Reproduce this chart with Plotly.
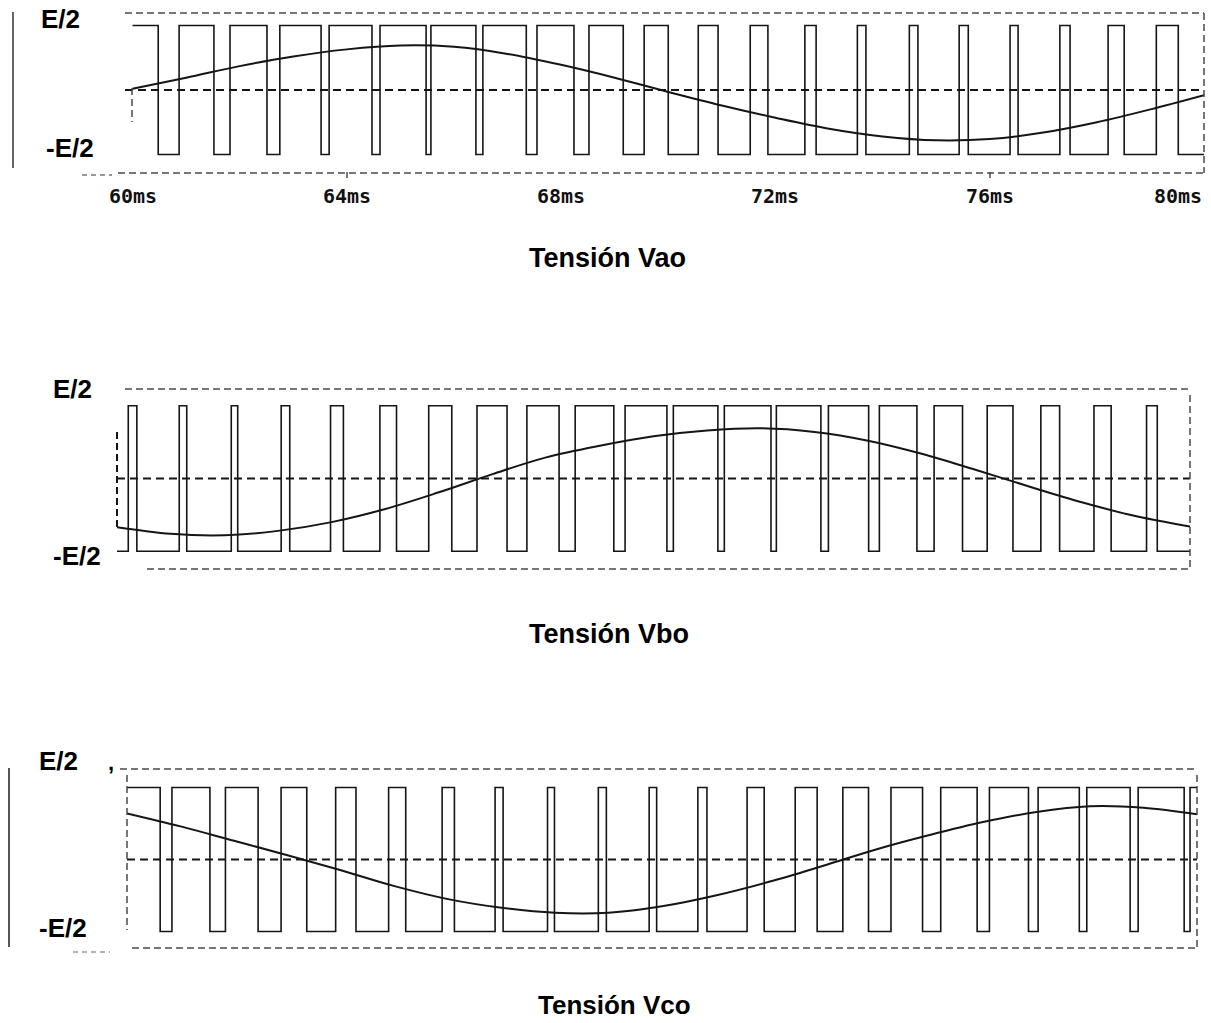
import plotly.graph_objects as go

# ---- data (time in ms, levels in units of E/2) ----
t_ref = [60, 61, 62, 63, 64, 65, 66, 67, 68, 69, 70,
         71, 72, 73, 74, 75, 76, 77, 78, 79, 80]

# sinusoidal references (modulating signals)
vao_ref = [0.02, 0.19, 0.37, 0.52, 0.63, 0.69, 0.67, 0.56, 0.39, 0.19, -0.03,
           -0.24, -0.43, -0.60, -0.72, -0.78, -0.76, -0.66, -0.50, -0.30, -0.08]
vbo_ref = [-0.67, -0.76, -0.78, -0.72, -0.60, -0.42, -0.19, 0.06, 0.29, 0.45, 0.58,
           0.66, 0.69, 0.64, 0.52, 0.34, 0.12, -0.11, -0.33, -0.52, -0.66]
vco_ref = [0.64, 0.46, 0.26, 0.06, -0.15, -0.37, -0.55, -0.67, -0.74, -0.74, -0.65,
           -0.50, -0.31, -0.09, 0.14, 0.34, 0.52, 0.66, 0.74, 0.72, 0.63]

# PWM switching instants: +E/2 between each rise and the following fall
vao_rise = [60.00, 60.87, 61.82, 62.75, 63.67, 64.62, 65.57, 66.54, 67.55, 68.52, 69.55,
            70.56, 71.53, 72.55, 73.53, 74.50, 75.43, 76.38, 77.31, 78.21, 79.11]
vao_fall = [60.48, 61.52, 62.51, 63.52, 64.47, 65.48, 66.41, 67.35, 68.24, 69.16, 70.00,
            70.93, 71.86, 72.76, 73.69, 74.66, 75.60, 76.53, 77.50, 78.51, 79.52]

vbo_rise = [60.21, 61.16, 62.13, 63.06, 63.98, 64.90, 65.81, 66.71, 67.64, 68.54, 69.47,
            70.37, 71.32, 72.29, 73.26, 74.21, 75.23, 76.22, 77.22, 78.21, 79.19]
vbo_fall = [60.37, 61.30, 62.25, 63.22, 64.22, 65.21, 66.24, 67.27, 68.24, 69.26, 70.25,
            71.20, 72.19, 73.12, 74.01, 74.91, 75.76, 76.70, 77.57, 78.53, 79.39]

vco_rise = [60.00, 60.84, 61.84, 62.88, 63.90, 64.89, 65.89, 66.88, 67.86, 68.81, 69.76,
            70.67, 71.59, 72.49, 73.38, 74.28, 75.21, 76.12, 77.03, 77.94, 78.90, 79.87]
vco_fall = [60.62, 61.55, 62.45, 63.36, 64.28, 65.21, 66.12, 67.03, 67.99, 68.96, 69.90,
            70.84, 71.91, 72.90, 73.86, 74.87, 75.89, 76.85, 77.80, 78.75, 79.76, 80.00]

tick_vals = [60, 64, 68, 72, 76, 80]
tick_text = ["60ms", "64ms", "68ms", "72ms", "76ms", "80ms"]
titles = ["Tensión Vao", "Tensión Vbo", "Tensión Vco"]

T_START, T_END = 60.0, 80.0
W, H = 1211, 1023


def px(x):
    return x / W


def py(y):
    return 1 - y / H


def pwm_steps(rises, falls):
    """Turn rise/fall instants into a +/-1 step waveform."""
    xs, ys = [], []
    level = 1 if rises[0] <= T_START else -1
    xs.append(T_START)
    ys.append(level)
    last = level
    for r, f in zip(rises, falls):
        if r > T_START:
            xs += [r, r]
            ys += [-1, 1]
        if f < T_END:
            xs += [f, f]
            ys += [1, -1]
            last = -1
        else:
            last = 1
    xs.append(T_END)
    ys.append(last)
    return xs, ys


INK = "#151515"
BOX = "#4a4a4a"

# panel geometry: x domain (px), y domain (px), x range, y range
panels = [
    dict(xd=(125, 1204), yd=(13, 173), xr=(59.86, 80.0), yr=(-1.287, 1.194),
         rise=vao_rise, fall=vao_fall, ref=vao_ref),
    dict(xd=(117, 1190), yd=(389, 569), xr=(60.0, 80.0), yr=(-1.244, 1.230),
         rise=vbo_rise, fall=vbo_fall, ref=vbo_ref),
    dict(xd=(127, 1197), yd=(769, 948), xr=(60.0, 80.0), yr=(-1.229, 1.257),
         rise=vco_rise, fall=vco_fall, ref=vco_ref),
]

fig = go.Figure()
layout_axes = {}
shapes = []

for i, p in enumerate(panels, start=1):
    xa = "x" if i == 1 else f"x{i}"
    ya = "y" if i == 1 else f"y{i}"
    xs, ys = pwm_steps(p["rise"], p["fall"])
    fig.add_trace(go.Scatter(x=xs, y=ys, mode="lines", xaxis=xa, yaxis=ya,
                             line=dict(color=INK, width=1.6), hoverinfo="skip",
                             showlegend=False))
    fig.add_trace(go.Scatter(x=t_ref, y=p["ref"], mode="lines", xaxis=xa, yaxis=ya,
                             line=dict(color=INK, width=2.0, shape="spline", smoothing=1.0),
                             hoverinfo="skip", showlegend=False))
    xkey = "xaxis" if i == 1 else f"xaxis{i}"
    ykey = "yaxis" if i == 1 else f"yaxis{i}"
    layout_axes[xkey] = dict(domain=[px(p["xd"][0]), px(p["xd"][1])], range=list(p["xr"]),
                             anchor=ya, showgrid=False, zeroline=False, showline=False,
                             showticklabels=False, ticks="", fixedrange=True)
    layout_axes[ykey] = dict(domain=[py(p["yd"][1]), py(p["yd"][0])], range=list(p["yr"]),
                             anchor=xa, showgrid=False, zeroline=False, showline=False,
                             showticklabels=False, ticks="", fixedrange=True)
    # zero-level dashed line
    shapes.append(dict(type="line", xref=f"{xa} domain", yref=ya, x0=0, x1=1, y0=0, y1=0,
                       line=dict(color=INK, width=2, dash="8px,5px"), layer="below"))


def dline(x0, y0, x1, y1, color=BOX, width=1.5, dash="7px,4px"):
    shapes.append(dict(type="line", xref="paper", yref="paper",
                       x0=px(x0), y0=py(y0), x1=px(x1), y1=py(y1),
                       line=dict(color=color, width=width, dash=dash)))


# dashed frames around each trace
dline(125, 13, 1204, 13)
dline(118, 173, 1204, 173)
dline(1204, 13, 1204, 173)
dline(132, 88, 132, 122)
dline(82, 175, 112, 175, color="#777", dash="5px,4px")

dline(125, 389, 1190, 389)
dline(147, 569, 1190, 569)
dline(1190, 395, 1190, 569)
dline(117, 432, 117, 530, color=INK, width=2)

dline(120, 769, 1197, 769)
dline(132, 948, 1197, 948)
dline(127, 775, 127, 930)
dline(1197, 775, 1197, 948)
dline(73, 952, 110, 952, color="#999", dash="5px,4px")

# small tick marks on the lower frame of the first trace
for tx in (347, 990):
    shapes.append(dict(type="line", xref="paper", yref="paper", x0=px(tx), x1=px(tx),
                       y0=py(172), y1=py(178), line=dict(color=BOX, width=1.5)))

# solid bars on the far left
shapes.append(dict(type="line", xref="paper", yref="paper", x0=px(13), x1=px(13),
                   y0=py(12), y1=py(168), line=dict(color="#666", width=2)))
shapes.append(dict(type="line", xref="paper", yref="paper", x0=px(9), x1=px(9),
                   y0=py(768), y1=py(947), line=dict(color="#555", width=2)))

annotations = []
LABEL_FONT = dict(family="Liberation Sans, Arial, sans-serif", size=26, color="#000")


def label(text, x, y, size=26, xanchor="center"):
    annotations.append(dict(text=f"<b>{text}</b>", x=px(x), y=py(y), xref="paper", yref="paper",
                            showarrow=False, xanchor=xanchor, yanchor="middle",
                            borderpad=0, font=dict(LABEL_FONT, size=size)))


label("E/2", 60, 19)
label("-E/2", 70, 148)
label("E/2", 72, 389)
label("-E/2", 77, 556)
label("E/2", 58, 761)
label("-E/2", 63, 928)
label(",", 111, 762, size=22)

label(titles[0], 607, 258, size=27)
label(titles[1], 609, 634, size=27)
label(titles[2], 614, 1005, size=26)

# time tick labels under the first trace
for v, txt in zip(tick_vals, tick_text):
    annotations.append(dict(text=f"<b>{txt}</b>", x=v, y=py(196), xref="x", yref="paper",
                            showarrow=False, xanchor="right" if v == tick_vals[-1] else "center",
                            yanchor="middle",
                            font=dict(family="DejaVu Sans Mono, monospace", size=20, color="#111")))

fig.update_layout(width=W, height=H, margin=dict(l=0, r=0, t=0, b=0),
                  paper_bgcolor="white", plot_bgcolor="white",
                  shapes=shapes, annotations=annotations, **layout_axes)

fig.write_html("out.html")
